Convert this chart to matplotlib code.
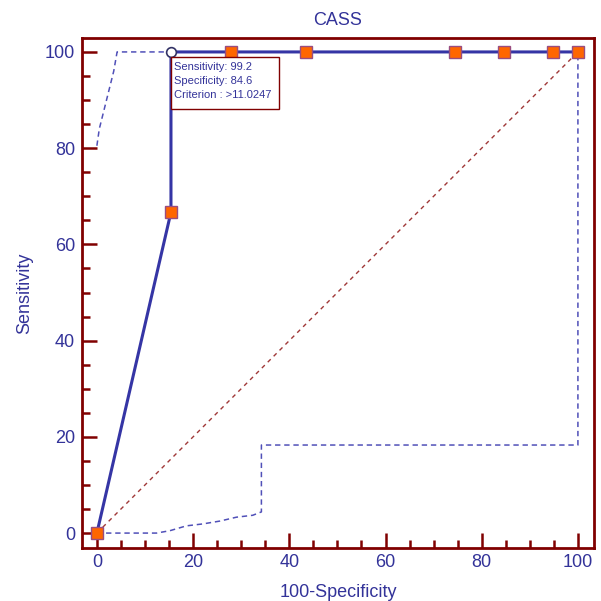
import matplotlib.pyplot as plt
from matplotlib.patches import Rectangle

plt.rcParams["font.family"] = ["Liberation Sans", "DejaVu Sans"]

# ROC curve points (100-Specificity, Sensitivity)
roc_x = [0, 15.4, 15.4, 27.9, 43.5, 74.4, 84.6, 94.8, 100]
roc_y = [0, 66.7, 100, 100, 100, 100, 100, 100, 100]
# optimal criterion point
best_x, best_y = 15.4, 100

# confidence bounds
upper_x = [0, 0.5, 1.5, 2.5, 3.5, 4.2, 15.4]
upper_y = [80.5, 84, 88, 92, 96, 100, 100]
lower_x = [0, 12.4, 15.2, 18.6, 22, 25.6, 29, 32.4, 34.2, 34.2, 100, 100]
lower_y = [0, 0, 0.5, 1.5, 1.9, 2.5, 3.3, 3.7, 4.4, 18.3, 18.3, 100]

info_lines = ["Sensitivity: 99.2", "Specificity: 84.6", "Criterion : >11.0247"]

dark_red = "#800000"
blue = "#333399"

fig = plt.figure(figsize=(6.01, 6.01), dpi=100)
ax = fig.add_axes([0.1364, 0.0882, 0.8516, 0.8486])

ax.plot(upper_x, upper_y, ls=(0, (3.5, 2.5)), color="#5050b8", lw=1.1)
ax.plot(lower_x, lower_y, ls=(0, (3.5, 2.5)), color="#5050b8", lw=1.1)
ax.plot([0, 100], [0, 100], ls=(0, (3, 3)), color="#a03838", lw=1)

ax.plot(roc_x, roc_y, color="#3535a5", lw=2.2, zorder=3)
ax.plot([x for i, x in enumerate(roc_x) if i != 2], [y for i, y in enumerate(roc_y) if i != 2],
        ls="none", marker="s", ms=8, mfc="#ff6600", mec="#994d80", mew=1, zorder=4)
ax.plot([best_x], [best_y], ls="none", marker="o", ms=7, mfc="white", mec="#333366", mew=1.2, zorder=5)

# info box under the optimal point
ax.add_patch(Rectangle((best_x, 88.1), 22.4, 10.9, fc="white", ec=dark_red, lw=1, zorder=6))
for i, line in enumerate(info_lines):
    ax.text(best_x + 0.6, 96.9 - i * 2.95, line, fontsize=8, color=blue,
            va="center", ha="left", zorder=7)

ax.set_xlim(-3.1, 103.3)
ax.set_ylim(-3.1, 102.9)
ax.set_xticks([0, 20, 40, 60, 80, 100])
ax.set_yticks([0, 20, 40, 60, 80, 100])
ax.set_xticks(range(0, 101, 5), minor=True)
ax.set_yticks(range(0, 101, 5), minor=True)

for s in ax.spines.values():
    s.set_color(dark_red)
    s.set_linewidth(2)
ax.tick_params(which="major", direction="in", length=11, width=1.8, color=dark_red,
               labelcolor=blue, labelsize=13)
ax.tick_params(which="minor", direction="in", length=6, width=1.8, color=dark_red)
ax.tick_params(axis="x", which="major", pad=4.5)
ax.tick_params(axis="y", which="major", pad=5)

ax.set_title("CASS", color=blue, fontsize=13, pad=9)
ax.set_xlabel("100-Specificity", color=blue, fontsize=13, labelpad=9)
ax.set_ylabel("Sensitivity", color=blue, fontsize=13, labelpad=8)

fig.savefig("out.png", dpi=100)
